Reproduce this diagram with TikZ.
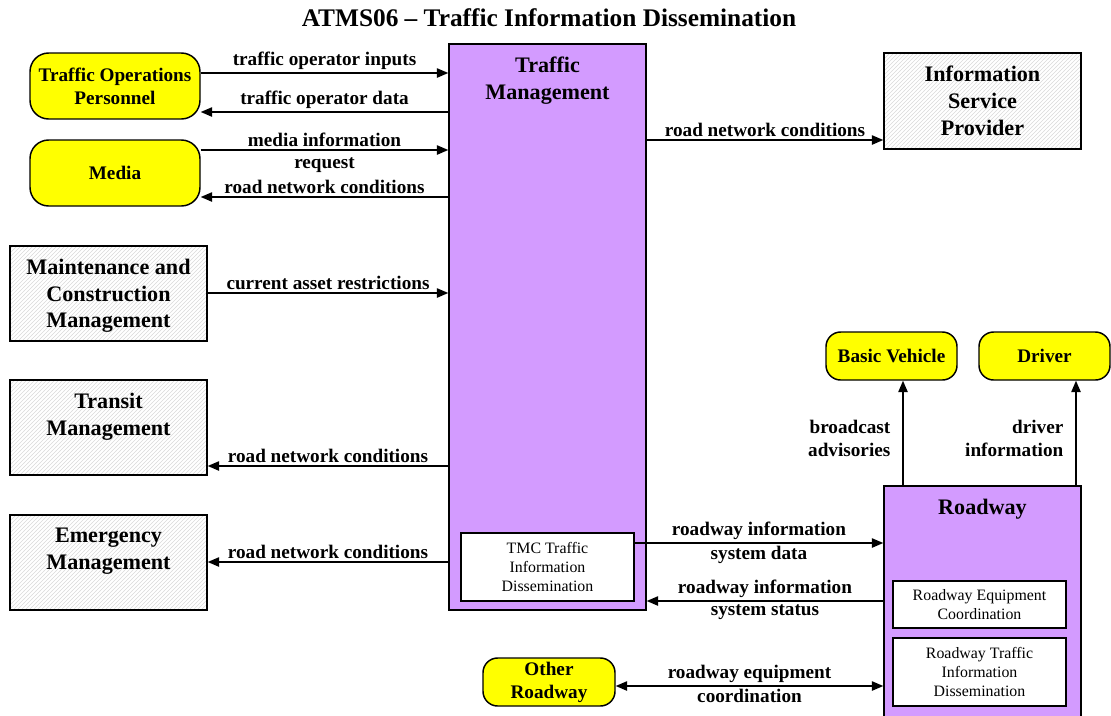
\documentclass[tikz,border=0pt]{standalone}
\usepackage{fontspec}
\setmainfont{Liberation Serif}
\usetikzlibrary{arrows.meta,patterns}
\definecolor{tmpurple}{RGB}{211,155,255}
\definecolor{actyellow}{RGB}{255,255,0}
\begin{document}
\begin{tikzpicture}
    [x=0.75pt,y=-0.75pt,line width=1pt,>={Triangle[length=8.5pt,width=7pt]},
     ttl/.style={font=\fontsize{19}{23}\selectfont\bfseries},
     big/.style={font=\fontsize{16.6}{20}\selectfont\bfseries},
     mid/.style={font=\fontsize{14.4}{17.2}\selectfont\bfseries},
     small/.style={font=\fontsize{11.9}{14.6}\selectfont},
     sys/.style={draw,fill=tmpurple,line width=1.1pt,minimum width=147.75pt},
     ext/.style={draw,pattern=north east lines,pattern color=gray!30,line width=1.1pt,minimum width=147.75pt,minimum height=71.25pt},
     term/.style={draw,fill=actyellow,rounded corners=14pt,line width=1.1pt,inner sep=2pt,mid,align=center},
     sub/.style={draw,fill=white,small,align=center,minimum width=129.75pt},
     head/.style={anchor=north,inner sep=0pt,yshift=-10pt,big,align=center},
     flow/.style={mid,inner sep=2pt}]
    \useasboundingbox (0, 0) rectangle (1111, 715);
    \node (title) at (549, 18) [ttl] {ATMS06 – Traffic Information Dissemination};
    \node (tm) at (547.5, 327) [sys,minimum height=424.5pt,label={[head]north:{Traffic\\Management}}] {};
    \node (tmc) at (547.5, 567) [sub,minimum height=51pt] {TMC Traffic\\Information\\Dissemination};
    \node (operators) at (115, 86) [term,minimum width=127.5pt,minimum height=49.5pt] {Traffic Operations\\Personnel};
    \node (media) at (115, 173) [term,minimum width=127.5pt,minimum height=49.5pt] {Media};
    \node (mcm) at (108.5, 293.5) [ext,label={[head]north:{Maintenance and\\Construction\\Management}}] {};
    \node (transit) at (108.5, 427.5) [ext,label={[head]north:{Transit\\Management}}] {};
    \node (emergency) at (108.5, 562.5) [ext,label={[head]north:{Emergency\\Management}}] {};
    \node (isp) at (982.5, 101) [ext,minimum height=72pt,label={[head]north:{Information\\Service\\Provider}}] {};
    \node (roadway) at (982.5, 602) [sys,minimum height=174pt,label={[head]north:Roadway}] {};
    \node (rec) at (979.5, 604.5) [sub,minimum height=35.25pt] {Roadway Equipment\\Coordination};
    \node (rtid) at (979.5, 672) [sub,minimum height=51pt] {Roadway Traffic\\Information\\Dissemination};
    \node (vehicle) at (891.5, 356) [term,minimum width=98.25pt,minimum height=36pt,rounded corners=11pt] {Basic Vehicle};
    \node (driver) at (1044.5, 356) [term,minimum width=98.25pt,minimum height=36pt,rounded corners=11pt] {Driver};
    \node (other) at (549, 682) [term,minimum width=99pt,minimum height=36pt,rounded corners=11pt] {Other\\Roadway};
    \draw [->] (operators.east |- 0,73) to node [flow,above] {traffic operator inputs} (tm.west |- 0,73);
    \draw [->] (tm.west |- 0,112) to node [flow,above] {traffic operator data} (operators.east |- 0,112);
    \draw [->] (media.east |- 0,150) to node [flow,above] {media information} node [flow,below,yshift=-3pt] {request} (tm.west |- 0,150);
    \draw [->] (tm.west |- 0,197) to node [flow,above] {road network conditions} (media.east |- 0,197);
    \draw [->] (mcm.east |- 0,293) to node [flow,above] {current asset restrictions} (tm.west |- 0,293);
    \draw [->] (tm.west |- 0,466) to node [flow,above] {road network conditions} (transit.east |- 0,466);
    \draw [->] (tm.west |- 0,562) to node [flow,above] {road network conditions} (emergency.east |- 0,562);
    \draw [->] (tm.east |- 0,140) to node [flow,above] {road network conditions} (isp.west |- 0,140);
    \draw [->] (tmc.east |- 0,543) to node [flow,above] {roadway information} node [flow,below] {system data} (roadway.west |- 0,543);
    \draw [->] (roadway.west |- 0,601) to node [flow,above] {roadway information} node [flow,below] {system status} (tm.east |- 0,601);
    \draw [<->] (other.east |- 0,686) to node [flow,above] {roadway equipment} node [flow,below] {coordination} (roadway.west |- 0,686);
    \draw [->] (roadway.north -| 903,0) to node [flow,left,align=right,pos=0.45,xshift=-7pt] {broadcast\\advisories} (vehicle.south -| 903,0);
    \draw [->] (roadway.north -| 1076,0) to node [flow,left,align=right,pos=0.45,xshift=-7pt] {driver\\information} (driver.south -| 1076,0);
  \end{tikzpicture}
\end{document}
